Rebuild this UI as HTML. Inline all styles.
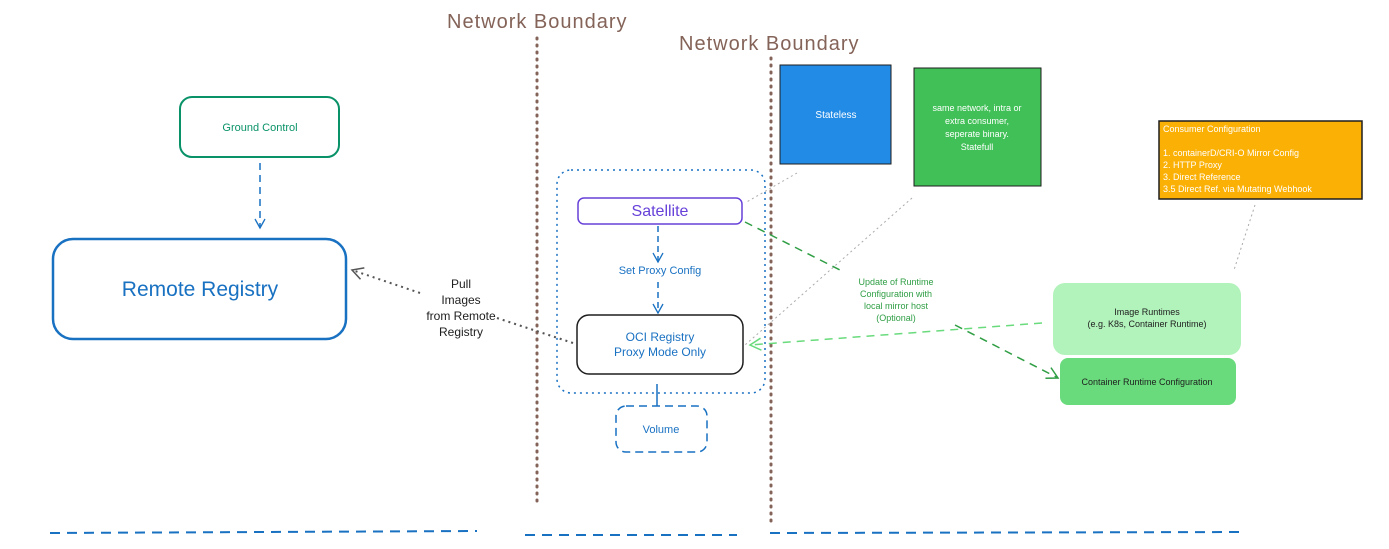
<!DOCTYPE html>
<html><head><meta charset="utf-8"><style>
body{margin:0;background:#fff;}
svg{display:block;font-family:"Liberation Sans",sans-serif;}
</style></head><body>
<svg width="1389" height="549" viewBox="0 0 1389 549" xmlns="http://www.w3.org/2000/svg">
<defs>
<marker id="ab" markerWidth="12" markerHeight="12" refX="10" refY="6" orient="auto" markerUnits="userSpaceOnUse"><path d="M1,1 L10,6 L1,11" fill="none" stroke="#1971c2" stroke-width="1.3"/></marker>
<marker id="ag" markerWidth="14" markerHeight="14" refX="12" refY="7" orient="auto" markerUnits="userSpaceOnUse"><path d="M1,1 L12,7 L1,13" fill="none" stroke="#2f9e44" stroke-width="1.5"/></marker>
<marker id="alg" markerWidth="14" markerHeight="14" refX="12" refY="7" orient="auto" markerUnits="userSpaceOnUse"><path d="M1,1 L12,7 L1,13" fill="none" stroke="#69db7c" stroke-width="1.5"/></marker>
<marker id="ad" markerWidth="14" markerHeight="14" refX="12" refY="7" orient="auto" markerUnits="userSpaceOnUse"><path d="M1,1 L12,7 L1,13" fill="none" stroke="#555" stroke-width="1.5"/></marker>
</defs>

<text x="447" y="28" font-size="20" fill="#846358" letter-spacing="1">Network Boundary</text>
<text x="679" y="50" font-size="20" fill="#846358" letter-spacing="1">Network Boundary</text>
<line x1="537" y1="38" x2="537" y2="502" stroke="#846358" stroke-width="3" stroke-dasharray="1,6" stroke-linecap="round"/>
<line x1="771" y1="58" x2="771" y2="522" stroke="#846358" stroke-width="3" stroke-dasharray="1,6" stroke-linecap="round"/>

<line x1="50" y1="533" x2="477" y2="531" stroke="#1971c2" stroke-width="2" stroke-dasharray="10,7"/>
<line x1="525" y1="535" x2="737" y2="535" stroke="#1971c2" stroke-width="2" stroke-dasharray="10,7"/>
<line x1="770" y1="533" x2="1243" y2="532" stroke="#1971c2" stroke-width="2" stroke-dasharray="10,7"/>

<rect x="180" y="97" width="159" height="60" rx="12" fill="none" stroke="#099268" stroke-width="2"/>
<text x="260" y="131" font-size="11" fill="#099268" text-anchor="middle">Ground Control</text>
<line x1="260" y1="163" x2="260" y2="228" stroke="#1971c2" stroke-width="1.5" stroke-dasharray="7,5" marker-end="url(#ab)"/>

<rect x="53" y="239" width="293" height="100" rx="20" fill="none" stroke="#1971c2" stroke-width="2.5"/>
<text x="200" y="296" font-size="21" fill="#1971c2" text-anchor="middle">Remote Registry</text>

<line x1="573" y1="343" x2="497" y2="318" stroke="#555" stroke-width="2" stroke-dasharray="2,4"/>
<line x1="420" y1="293" x2="352" y2="270" stroke="#555" stroke-width="2" stroke-dasharray="2,4" marker-end="url(#ad)"/>
<text font-size="12" fill="#1e1e1e" text-anchor="middle"><tspan x="461" y="288">Pull</tspan><tspan x="461" y="304">Images</tspan><tspan x="461" y="320">from Remote</tspan><tspan x="461" y="336">Registry</tspan></text>

<rect x="557" y="170" width="208" height="223" rx="14" fill="none" stroke="#1971c2" stroke-width="1.5" stroke-dasharray="2,4"/>

<rect x="578" y="198" width="164" height="26" rx="6" fill="none" stroke="#6741d9" stroke-width="1.5"/>
<text x="660" y="216" font-size="16" fill="#6741d9" text-anchor="middle">Satellite</text>
<line x1="658" y1="226" x2="658" y2="262" stroke="#1971c2" stroke-width="1.5" stroke-dasharray="6,4" marker-end="url(#ab)"/>
<text x="660" y="274" font-size="11" fill="#1971c2" text-anchor="middle">Set Proxy Config</text>
<line x1="658" y1="282" x2="658" y2="313" stroke="#1971c2" stroke-width="1.5" stroke-dasharray="6,4" marker-end="url(#ab)"/>

<rect x="577" y="315" width="166" height="59" rx="12" fill="none" stroke="#1e1e1e" stroke-width="1.5"/>
<text font-size="12" fill="#1971c2" text-anchor="middle"><tspan x="660" y="341">OCI Registry</tspan><tspan x="660" y="356">Proxy Mode Only</tspan></text>
<line x1="657" y1="384" x2="657" y2="406" stroke="#1971c2" stroke-width="1.5"/>

<rect x="616" y="406" width="91" height="46" rx="10" fill="none" stroke="#1971c2" stroke-width="1.5" stroke-dasharray="8,5"/>
<text x="661" y="433" font-size="11" fill="#1971c2" text-anchor="middle">Volume</text>

<rect x="780" y="65" width="111" height="99" fill="#228be6" stroke="#1e1e1e" stroke-width="1"/>
<text x="836" y="118" font-size="10" fill="#fff" text-anchor="middle">Stateless</text>

<rect x="914" y="68" width="127" height="118" fill="#40c057" stroke="#1e1e1e" stroke-width="1"/>
<text font-size="9" fill="#fff" text-anchor="middle"><tspan x="977" y="111">same network, intra or</tspan><tspan x="977" y="124">extra consumer,</tspan><tspan x="977" y="137">seperate  binary.</tspan><tspan x="977" y="150">Statefull</tspan></text>

<line x1="797" y1="173" x2="745" y2="203" stroke="#aaa" stroke-width="1" stroke-dasharray="2,3"/>
<line x1="912" y1="198" x2="745" y2="345" stroke="#aaa" stroke-width="1" stroke-dasharray="2,3"/>
<line x1="1255" y1="205" x2="1234" y2="270" stroke="#aaa" stroke-width="1" stroke-dasharray="2,3"/>

<path d="M745,222 L840,270 M955,325 L1058,378" stroke="#2f9e44" stroke-width="1.5" stroke-dasharray="8,6" fill="none" marker-end="url(#ag)"/>
<text font-size="9" fill="#2f9e44" text-anchor="middle"><tspan x="896" y="285">Update of Runtime</tspan><tspan x="896" y="297">Configuration with</tspan><tspan x="896" y="309">local mirror host</tspan><tspan x="896" y="321">(Optional)</tspan></text>

<line x1="1042" y1="323" x2="750" y2="345" stroke="#69db7c" stroke-width="1.5" stroke-dasharray="8,6" marker-end="url(#alg)"/>

<rect x="1159" y="121" width="203" height="78" fill="#fab005" stroke="#1e1e1e" stroke-width="1.5"/>
<text font-size="9" fill="#fff"><tspan x="1163" y="132">Consumer Configuration</tspan><tspan x="1163" y="156">1.  containerD/CRI-O Mirror Config</tspan><tspan x="1163" y="168">2. HTTP Proxy</tspan><tspan x="1163" y="180">3. Direct Reference</tspan><tspan x="1163" y="192">3.5 Direct Ref. via Mutating Webhook</tspan></text>

<rect x="1053" y="283" width="188" height="72" rx="12" fill="#b2f2bb"/>
<text font-size="9" fill="#1e1e1e" text-anchor="middle"><tspan x="1147" y="315">Image Runtimes</tspan><tspan x="1147" y="327">(e.g. K8s, Container Runtime)</tspan></text>
<rect x="1060" y="358" width="176" height="47" rx="8" fill="#69db7c"/>
<text x="1147" y="385" font-size="9" fill="#1e1e1e" text-anchor="middle">Container Runtime Configuration</text>
</svg>
</body></html>
